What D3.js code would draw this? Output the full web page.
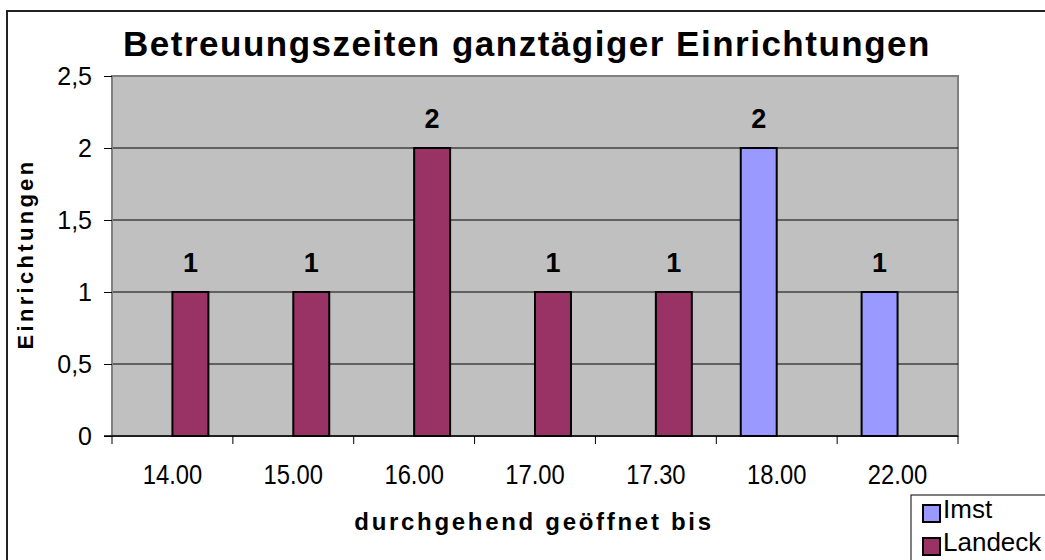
<!DOCTYPE html>
<html lang="de">
<head>
  <meta charset="UTF-8">
  <title>Betreuungszeiten ganztägiger Einrichtungen</title>
  <style>
    body { margin: 0; background: #fff; }
    svg { display: block; font-family: Arial, "Liberation Sans", sans-serif; }
    .grid line { stroke: #000; stroke-width: 1; }
    .bar { stroke: #000; stroke-width: 2; }
  </style>
</head>
<body>
  <svg width="1045" height="560"></svg>
  <script src="https://cdn.jsdelivr.net/npm/d3@7"></script>
  <script>
    // data
    var categories = ['14.00', '15.00', '16.00', '17.00', '17.30', '18.00', '22.00']
    var seriesNames = ['Imst', 'Landeck']
    var imst = [null, null, null, null, null, 2, 1]
    var landeck = [1, 1, 2, 1, 1, null, null]
    var yTicks = [0, 0.5, 1, 1.5, 2, 2.5]
    var colors = { Imst: '#9999FF', Landeck: '#993366' }

    var svg = d3.select('svg')
    var plotLeft = 112, plotRight = 958, plotTop = 76, plotBottom = 436

    // outer chart frame
    svg.append('rect')
      .attr('x', 7).attr('y', 11)
      .attr('width', 1100).attr('height', 600)
      .attr('fill', '#fff')
      .attr('stroke', '#222')
      .attr('stroke-width', 2)

    var x0 = d3.scaleBand().domain(categories).range([plotLeft, plotRight])
    var x1 = d3.scaleBand().domain(seriesNames).range([0, x0.bandwidth()])
      .paddingInner(0).paddingOuter(0.68)
    var y = d3.scaleLinear().domain([0, 2.5]).range([plotBottom, plotTop])
    var fmt = function(d) { return String(d).replace('.', ',') }

    // plot area
    svg.append('rect')
      .attr('x', plotLeft).attr('y', plotTop)
      .attr('width', plotRight - plotLeft).attr('height', plotBottom - plotTop)
      .attr('fill', '#C0C0C0')
      .attr('stroke', '#808080')
      .attr('stroke-width', 2)

    // gridlines
    svg.append('g').attr('class', 'grid')
      .selectAll('line')
      .data(yTicks.filter(function(d) { return d > 0 && d < 2.5 }))
      .enter().append('line')
      .attr('x1', plotLeft).attr('x2', plotRight)
      .attr('y1', function(d) { return y(d) })
      .attr('y2', function(d) { return y(d) })

    // y axis
    var yAxis = svg.append('g')
      .attr('transform', 'translate(' + plotLeft + ',0)')
      .call(d3.axisLeft(y).tickValues(yTicks).tickFormat(fmt).tickSize(8).tickPadding(12))
    yAxis.select('.domain').attr('stroke', '#808080').attr('stroke-width', 1)
    yAxis.selectAll('.tick line').attr('stroke', '#000')
    yAxis.selectAll('text')
      .attr('font-size', '25px')
      .attr('font-family', 'Arial, "Liberation Sans", sans-serif')
      .attr('fill', '#000')

    // x axis
    var xTickScale = d3.scaleLinear().domain([0, categories.length]).range([plotLeft, plotRight])
    var xAxisG = svg.append('g').attr('transform', 'translate(0,' + plotBottom + ')')
    xAxisG.append('line')
      .attr('x1', plotLeft - 8).attr('x2', plotRight)
      .attr('stroke', '#000').attr('stroke-width', 1.5)
    xAxisG.selectAll('.xt')
      .data(d3.range(categories.length + 1))
      .enter().append('line')
      .attr('class', 'xt')
      .attr('x1', function(d) { return xTickScale(d) })
      .attr('x2', function(d) { return xTickScale(d) })
      .attr('y1', 0).attr('y2', 8)
      .attr('stroke', '#000')
    // labels are a bit narrow in the original, squeeze them horizontally
    xAxisG.selectAll('.xl')
      .data(categories)
      .enter().append('text')
      .attr('class', 'xl')
      .attr('transform', function(d) {
        return 'translate(' + (x0(d) + x0.bandwidth() / 2) + ',48) scale(0.88,1)'
      })
      .attr('text-anchor', 'middle')
      .attr('font-size', '27px')
      .text(function(d) { return d })

    // bars
    var rows = []
    categories.forEach(function(c, i) {
      rows.push({ cat: c, series: 'Imst', value: imst[i] })
      rows.push({ cat: c, series: 'Landeck', value: landeck[i] })
    })
    var present = rows.filter(function(d) { return d.value != null })

    svg.selectAll('.bar')
      .data(present)
      .enter().append('rect')
      .attr('class', 'bar')
      .attr('x', function(d) { return x0(d.cat) + x1(d.series) })
      .attr('y', function(d) { return y(d.value) })
      .attr('width', x1.bandwidth())
      .attr('height', function(d) { return plotBottom - y(d.value) })
      .attr('fill', function(d) { return colors[d.series] })

    // data labels
    svg.selectAll('.val')
      .data(present)
      .enter().append('text')
      .attr('class', 'val')
      .attr('x', function(d) { return x0(d.cat) + x1(d.series) + x1.bandwidth() / 2 })
      .attr('y', function(d) { return y(d.value) - 20 })
      .attr('text-anchor', 'middle')
      .attr('font-size', '27px')
      .attr('font-weight', 'bold')
      .text(function(d) { return d.value })

    // title
    svg.append('text')
      .attr('x', 527).attr('y', 56)
      .attr('text-anchor', 'middle')
      .attr('font-size', '35px')
      .attr('font-weight', 'bold')
      .attr('letter-spacing', '1.5px')
      .text('Betreuungszeiten ganztägiger Einrichtungen')

    // axis titles
    svg.append('text')
      .attr('transform', 'translate(33,254) rotate(-90)')
      .attr('text-anchor', 'middle')
      .attr('font-size', '22px')
      .attr('font-weight', 'bold')
      .attr('letter-spacing', '3.3px')
      .text('Einrichtungen')

    svg.append('text')
      .attr('x', 534).attr('y', 530)
      .attr('text-anchor', 'middle')
      .attr('font-size', '24px')
      .attr('font-weight', 'bold')
      .attr('letter-spacing', '2.7px')
      .text('durchgehend geöffnet bis')

    // legend
    var legend = svg.append('g').attr('transform', 'translate(911,495)')
    legend.append('rect')
      .attr('width', 200).attr('height', 100)
      .attr('fill', '#fff').attr('stroke', '#000').attr('stroke-width', 1)
    var item = legend.selectAll('.item')
      .data(seriesNames)
      .enter().append('g')
      .attr('class', 'item')
      .attr('transform', function(d, i) { return 'translate(12,' + (10 + i * 33) + ')' })
    item.append('rect')
      .attr('width', 17).attr('height', 17)
      .attr('fill', function(d) { return colors[d] })
      .attr('stroke', '#000').attr('stroke-width', 2)
    item.append('text')
      .attr('x', 20).attr('y', 13)
      .attr('font-size', '26px')
      .text(function(d) { return d })
  </script>
</body>
</html>
